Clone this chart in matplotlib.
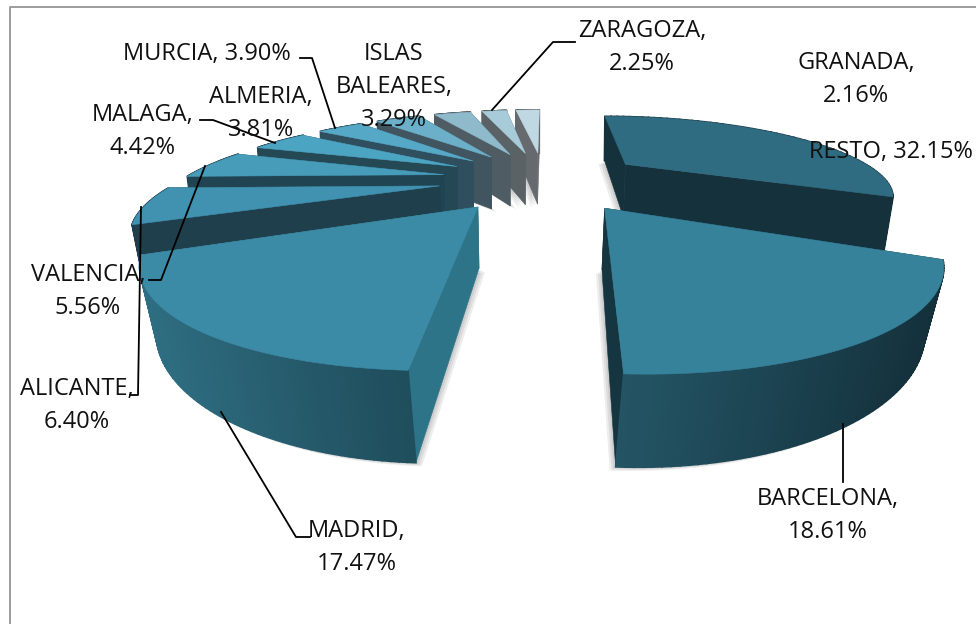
import numpy as np
import matplotlib
matplotlib.use("Agg")
import matplotlib.pyplot as plt
from matplotlib.colors import to_rgb

names = ['RESTO', 'BARCELONA', 'MADRID', 'ALICANTE', 'VALENCIA', 'MALAGA',
         'ALMERIA', 'MURCIA', 'ISLAS BALEARES', 'ZARAGOZA', 'GRANADA']
shares = [32.15, 18.61, 17.47, 6.40, 5.56, 4.42, 3.81, 3.90, 3.29, 2.25, 2.16]

top_colors = ['#2f6c81', '#37829b', '#3b8aa6', '#4092b0', '#479cba', '#4ca4c3',
              '#56a9c6', '#6bb0c8', '#8ebacc', '#a8cbd9', '#c0d8e2']
side_colors = ['#15323c', '#153540', '#2e7488', '#203f4c', '#204452', '#254855',
               '#2f4f5e', '#405560', '#4f5c63', '#5a6266', '#666a6e']
band_left = ['#15323c', '#245565', '#2f6f83', '#203f4c', '#204452', '#254855',
             '#2f4f5e', '#405560', '#4f5c63', '#5a6266', '#666a6e']
band_right = ['#15323c', '#132f3a', '#1f4d5c', '#203f4c', '#204452', '#254855',
              '#2f4f5e', '#405560', '#4f5c63', '#5a6266', '#666a6e']

# projection of the pie plane, fitted by eye against the picture
cx, cy = 544, 179
rx, ry = 259, 74.4
persp = 0.363
explode = 0.4
vx = 516


def project(u, v):
    s = 1 / (1 - persp * v)
    return cx + rx * u * s, cy + ry * v * s, s


def bottom(x, s, y):
    shrink = 1 - 0.055 * (s - 0.6)
    return vx + (x - vx) * shrink, y + 17 + 39 * s


plt.rcParams['font.family'] = ['Open Sans', 'DejaVu Sans']
fig = plt.figure(figsize=(9.76, 6.24), dpi=100)
ax = fig.add_axes([0, 0, 1, 1])
ax.set_xlim(0, 976)
ax.set_ylim(624, 0)
ax.axis('off')

ax.plot([9.5, 9.5, 976], [624, 7, 7], color='#9c9c9c', lw=1.4)

edges = np.concatenate([[0], np.cumsum(shares)]) / np.sum(shares) * 2 * np.pi
mids = (edges[:-1] + edges[1:]) / 2

for i in np.argsort(-np.cos(mids)):
    a0, a1 = edges[i], edges[i + 1]
    tip_u = explode * np.sin(mids[i])
    tip_v = -explode * np.cos(mids[i])
    ang = np.linspace(a0, a1, 60)
    xs, ys, ss = project(tip_u + np.sin(ang), tip_v - np.cos(ang))
    bx, by = bottom(xs, ss, ys)
    tx, ty, ts = project(tip_u, tip_v)
    tbx, tby = bottom(tx, ts, ty)

    # soft shadow under the wedge, pulled towards the middle
    px = np.r_[tbx, bx]
    py = np.r_[tby, by]
    shift = -np.sign(tx - vx)
    for k in (6, 4, 2):
        ax.fill(px + shift * k, py + k * 0.6, color='#000000', alpha=0.07, lw=0, zorder=1)

    faces = []
    faces.append((tip_v + 0.5 * (-np.cos(a0)),
                  [tx, xs[0], bx[0], tbx], [ty, ys[0], by[0], tby], side_colors[i], 0.4))
    faces.append((tip_v + 0.5 * (-np.cos(a1)),
                  [tx, xs[-1], bx[-1], tbx], [ty, ys[-1], by[-1], tby], side_colors[i], 0.4))
    left = np.array(to_rgb(band_left[i]))
    right = np.array(to_rgb(band_right[i]))
    lo, hi = bx.min(), bx.max()
    for j in range(len(ang) - 1):
        f = ((bx[j] + bx[j + 1]) / 2 - lo) / max(hi - lo, 1)
        col = left * (1 - f) + right * f
        faces.append((tip_v - np.cos(ang[j]),
                      [xs[j], xs[j + 1], bx[j + 1], bx[j]],
                      [ys[j], ys[j + 1], by[j + 1], by[j]], tuple(col), 1.2))
    faces.sort(key=lambda q: q[0])
    for _, fx, fy, col, w in faces:
        ax.fill(fx, fy, color=col, lw=w, zorder=2)
    ax.fill(np.r_[tx, xs], np.r_[ty, ys], color=top_colors[i], lw=0.4, zorder=2)

# leader lines
leaders = [
    ([575, 553, 492], [42, 42, 110]),
    ([300, 312, 335], [58, 58, 128]),
    ([200, 213, 275], [120, 120, 143]),
    ([149, 161, 205], [280, 280, 166]),
    ([130, 138, 141], [395, 395, 207]),
    ([310, 296, 221], [537, 537, 412]),
    ([843, 843], [482, 424]),
]
for lx, ly in leaders:
    ax.plot(lx, ly, color='black', lw=1.3, zorder=3)

labels = [
    ('GRANADA,\n2.16%', 856, 79),
    ('RESTO, 32.15%', 891, 152),
    ('ZARAGOZA,\n2.25%', 642, 47),
    ('ISLAS\nBALEARES,\n3.29%', 394, 87),
    ('MURCIA, 3.90%', 207, 54),
    ('ALMERIA,\n3.81%', 261, 113),
    ('MALAGA,\n4.42%', 143, 131),
    ('VALENCIA,\n5.56%', 88, 291),
    ('ALICANTE,\n6.40%', 77, 405),
    ('MADRID,\n17.47%', 357, 547),
    ('BARCELONA,\n18.61%', 828, 515),
]
for txt, lx, ly in labels:
    ax.text(lx, ly, txt, ha='center', va='center', fontsize=17, color='#111111',
            linespacing=1.5, zorder=4)

fig.savefig('out.png', dpi=100)
